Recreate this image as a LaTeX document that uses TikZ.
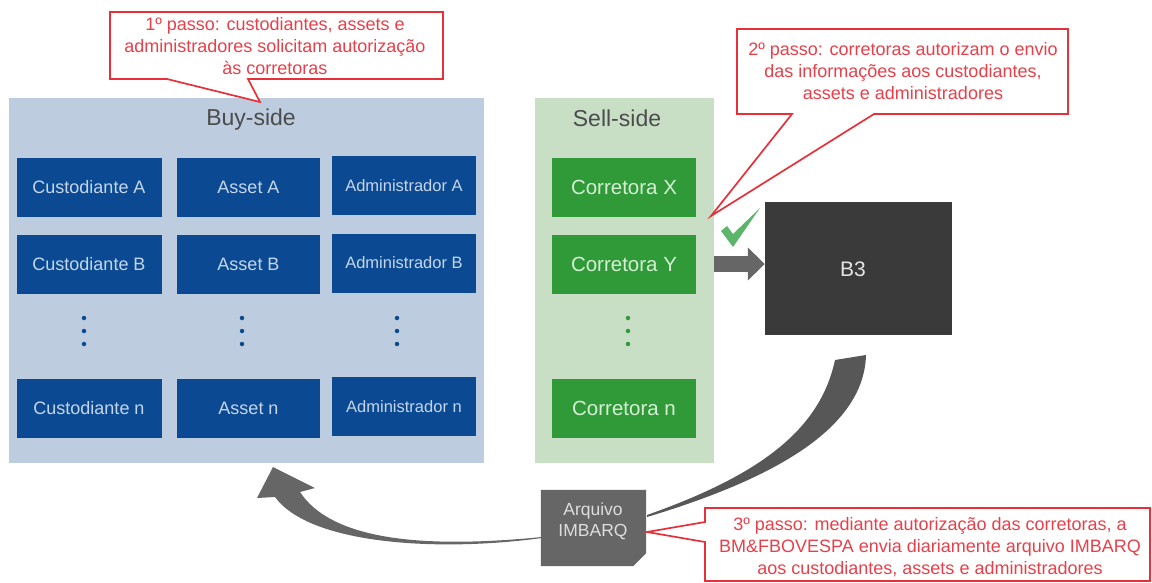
\documentclass[tikz,border=0pt]{standalone}
\usepackage{fontspec}
\setmainfont{Liberation Sans}
\usetikzlibrary{arrows.meta}
\definecolor{buybg}{HTML}{BDCDDF}
\definecolor{sellbg}{HTML}{C8DFC6}
\definecolor{bluebox}{HTML}{0B4A92}
\definecolor{greenbox}{HTML}{2F9A37}
\definecolor{darkbox}{HTML}{3A3A3A}
\definecolor{grayshape}{HTML}{666666}
\definecolor{redline}{HTML}{E8303A}
\definecolor{redtext}{HTML}{E8404A}
\definecolor{checkgreen}{HTML}{5CB56A}
\definecolor{bluetext}{HTML}{C5D6EA}
\definecolor{greentext}{HTML}{D5EFD5}
\tikzset{
  panel/.style={draw=none,minimum height=365pt,inner sep=0pt},
  panelttl/.style={text=black!70,font=\fontsize{23}{25}\selectfont},
  bluecell/.style={fill=bluebox,text=bluetext,font=\fontsize{#1}{18}\selectfont,minimum height=59pt,inner sep=0pt},
  bluecell/.default=18,
  greencell/.style={fill=greenbox,text=greentext,font=\fontsize{20.5}{22}\selectfont,minimum width=144pt,minimum height=59pt,inner sep=0pt},
  callout/.style={draw=redline,line width=1.7pt,fill=white,line join=miter},
  calltext/.style={text=redtext,align=center,font=\fontsize{18}{22}\selectfont,inner sep=0pt},
  vdot/.style={circle,inner sep=0pt,minimum size=4.5pt},
}
\newcommand{\cell}[6]{\node[#1,minimum width=#4pt] (#2) at (#3,#5) {#6};}
\begin{document}
\begin{tikzpicture}[x=1pt,y=-1pt]
\useasboundingbox (0,0) rectangle (1152,583);
% panels
\node[panel,fill=buybg,minimum width=475pt] (buy) at (246,280.5) {};
\node[panel,fill=sellbg,minimum width=179pt] (sell) at (624.5,280.5) {};
\node[panelttl] (buyt) at (251,120) {Buy-side};
\node[panelttl] (sellt) at (617,118) {Sell-side};
% blue cells
\cell{bluecell}{ca}{89}{145}{187.5}{Custodiante A}
\cell{bluecell}{cb}{89}{145}{264.5}{Custodiante B}
\cell{bluecell}{cn}{89}{145}{408.5}{Custodiante n}
\cell{bluecell}{aa}{248.5}{143}{187.5}{Asset A}
\cell{bluecell}{ab}{248.5}{143}{264.5}{Asset B}
\cell{bluecell}{an}{248.5}{143}{408.5}{Asset n}
\cell{bluecell=16.5}{da}{404}{144}{185.5}{Administrador A}
\cell{bluecell=16.5}{db}{404}{144}{263}{Administrador B}
\cell{bluecell=16.5}{dn}{404}{144}{406.5}{Administrador n}
% green cells
\node[greencell] (cx) at (624,187.5) {Corretora X};
\node[greencell] (cy) at (624,264.5) {Corretora Y};
\node[greencell] (cz) at (624,408.5) {Corretora n};
% dots
\foreach \n/\x/\c in {a/84/bluebox,b/242/bluebox,c/397/bluebox,d/628/greenbox}
  \foreach \m/\y in {1/318,2/331,3/344}
    \node[vdot,fill=\c] (dot\n\m) at (\x,\y) {};
% B3
\node[fill=darkbox,minimum width=187pt,minimum height=133pt,inner sep=0pt] (b3) at (858.5,268.5) {};
\node[text=white!90!black,font=\fontsize{21}{23}\selectfont] (b3t) at (853,269) {B3};
% block arrow
\coordinate (arrs) at (sell.east |- 0,264);
\coordinate (arre) at (b3.west |- 0,264);
\draw[grayshape,line width=16pt,-{Triangle[length=17pt,width=32pt]}] (arrs) -- (arre);
% check
\fill[checkgreen] (721,231) -- (727,226) -- (733,234) -- (760,208) -- (733,247) -- cycle;
% curved arrows
\fill[grayshape!85!black] (835,360) -- (866,355)
  .. controls (864,430) and (770,480) .. (647,517)
  -- (647,515)
  .. controls (760,475) and (820,430) .. cycle;
\fill[grayshape] (542,538) .. controls (440,552) and (310,545) .. (275,497)
  -- (257,498) -- (273,467) -- (315,488) -- (300,492)
  .. controls (335,545) and (440,547) .. (542,537) -- cycle;
% file
\node[minimum width=105pt,minimum height=76pt,inner sep=0pt] (file) at (593.5,528) {};
\fill[grayshape] (file.north west) -- (file.north east) -- ([yshift=13pt]file.south east) -- ([xshift=-13pt]file.south east) -- (file.south west) -- cycle;
\node[text=white!78!grayshape,align=center,font=\fontsize{17.5}{21}\selectfont] (filet) at (593,521) {Arquivo\\IMBARQ};
% callouts
\draw[callout] (110,12) -- (443,12) -- (443,79) -- (248,79) -- (260,102) -- (167,79) -- (110,79) -- cycle;
\node[calltext] (t1) at (275,46.5) {1º passo: custodiantes, assets e\\administradores solicitam autorização\\às corretoras};
\draw[callout] (737,29) -- (1068,29) -- (1068,114) -- (874,114) -- (711,216) -- (792,114) -- (737,114) -- cycle;
\node[calltext] (t2) at (903,71.5) {2º passo: corretoras autorizam o envio\\das informações aos custodiantes,\\assets e administradores};
\draw[callout] (705,508) -- (1150,508) -- (1150,581) -- (705,581) -- (705,542) -- (647,532) -- (705,522) -- cycle;
\node[calltext] (t3) at (930,547) {3º passo: mediante autorização das corretoras, a\\BM\&FBOVESPA envia diariamente arquivo IMBARQ\\aos custodiantes, assets e administradores};
\end{tikzpicture}
\end{document}
